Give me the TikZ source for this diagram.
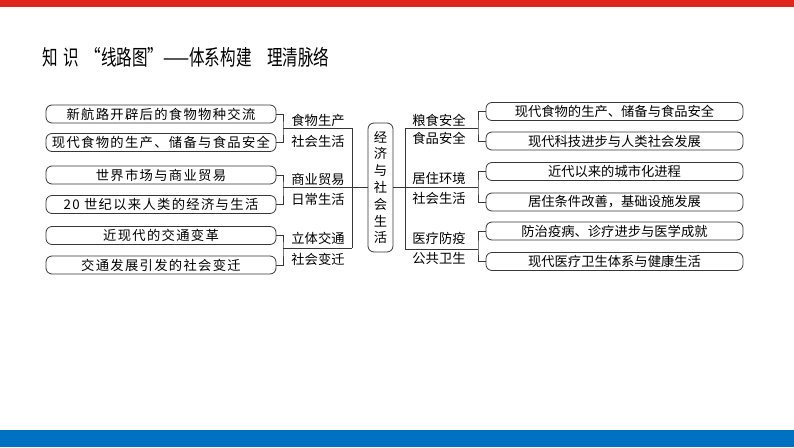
\documentclass[tikz,border=0pt]{standalone}
\usepackage{fontspec}
\newfontfamily\cjk{Noto Sans CJK SC}
\newfontfamily\cjkwide[LetterSpace=10]{Noto Sans CJK SC}
\newfontfamily\titlefont{Noto Sans CJK SC}
\usepackage{tikz}
\usetikzlibrary{positioning}
\definecolor{topred}{RGB}{224,39,31}
\definecolor{botblue}{RGB}{0,112,192}
\definecolor{linegray}{RGB}{55,55,55}

\begin{document}
\begin{tikzpicture}[x=1pt,y=-1pt,
  lbox/.style={draw=linegray, line width=0.8pt, rounded corners=6pt, minimum width=230pt, minimum height=18pt, inner sep=0pt, font=\cjkwide\fontsize{13.3}{15}\selectfont},
  rbox/.style={draw=linegray, line width=0.8pt, rounded corners=6pt, minimum width=257pt, minimum height=18pt, inner sep=0pt, font=\cjk\fontsize{13.3}{15}\selectfont},
  glabel/.style={inner sep=0pt, font=\cjk\fontsize{13.3}{15}\selectfont},
  link/.style={draw=linegray, line width=0.8pt}]
      \useasboundingbox (0,0) rectangle (794,447);
      \fill [topred] (0,0) rectangle (794,7);
      \fill [botblue] (0,430) rectangle (794,447);
      \node [anchor=west, inner sep=0pt] (title) at (42,57) {\titlefont\fontsize{21}{22}\selectfont\scalebox{0.74}[1.02]{知\hspace{0.4em}识\hspace{0.4em}“线路图”——体系构建\hspace{1em}理清脉络}};

      \node [draw=linegray, line width=0.8pt, rounded corners=6pt, minimum width=25pt, minimum height=129pt, inner sep=0pt, align=center, font=\cjk\fontsize{13.3}{16.8}\selectfont] (eco) at (380.5,187.5) {经\\济\\与\\社\\会\\生\\活};

      \node [lbox] (l1) at (161,114) {新航路开辟后的食物物种交流};
      \node [lbox] (l2) at (161,142.5) {现代食物的生产、储备与食品安全};
      \node [lbox] (l3) at (161,175) {世界市场与商业贸易};
      \node [lbox] (l4) at (161,204.5) {20 世纪以来人类的经济与生活};
      \node [lbox] (l5) at (161,235.5) {近现代的交通变革};
      \node [lbox] (l6) at (161,265) {交通发展引发的社会变迁};

      \coordinate (lj1) at (283,128);
      \coordinate (lj2) at (283,187.5);
      \coordinate (lj3) at (283,248);
      \coordinate (lt1) at (352,128);
      \coordinate (lt2) at (352,187.5);
      \coordinate (lt3) at (352,248);
      \draw [link] (l1.east) -| (lj1) |- (l2.east);
      \draw [link] (l3.east) -| (lj2) |- (l4.east);
      \draw [link] (l5.east) -| (lj3) |- (l6.east);
      \draw [link] (lj1) -- (lt1);
      \draw [link] (lj2) -- (lt2);
      \draw [link] (lj3) -- (lt3);
      \draw [link] (lt1) -- (lt3);
      \draw [link] (lt2) -- (eco.west);
      \node [glabel] (lg1a) at (318,120) {食物生产};
      \node [glabel] (lg1b) at (318,141) {社会生活};
      \node [glabel] (lg2a) at (318,179) {商业贸易};
      \node [glabel] (lg2b) at (318,199) {日常生活};
      \node [glabel] (lg3a) at (318,238) {立体交通};
      \node [glabel] (lg3b) at (318,259) {社会变迁};

      \node [rbox] (r1) at (614.5,111.5) {现代食物的生产、储备与食品安全};
      \node [rbox] (r2) at (614.5,141) {现代科技进步与人类社会发展};
      \node [rbox] (r3) at (614.5,171.5) {近代以来的城市化进程};
      \node [rbox] (r4) at (614.5,202) {居住条件改善，基础设施发展};
      \node [rbox] (r5) at (614.5,231) {防治疫病、诊疗进步与医学成就};
      \node [rbox] (r6) at (614.5,261.5) {现代医疗卫生体系与健康生活};

      \coordinate (rt1) at (405,128);
      \coordinate (rt2) at (405,187.5);
      \coordinate (rt3) at (405,249);
      \coordinate (rj1) at (478,128);
      \coordinate (rj2) at (478,187.5);
      \coordinate (rj3) at (478,249);
      \draw [link] (eco.east) -- (rt2);
      \draw [link] (rt1) -- (rt3);
      \draw [link] (rt1) -- (rj1);
      \draw [link] (rt2) -- (rj2);
      \draw [link] (rt3) -- (rj3);
      \draw [link] (r1.west) -| (rj1) |- (r2.west);
      \draw [link] (r3.west) -| (rj2) |- (r4.west);
      \draw [link] (r5.west) -| (rj3) |- (r6.west);
      \node [glabel] (rg1a) at (439,120) {粮食安全};
      \node [glabel] (rg1b) at (439,138) {食品安全};
      \node [glabel] (rg2a) at (439,178) {居住环境};
      \node [glabel] (rg2b) at (439,198) {社会生活};
      \node [glabel] (rg3a) at (439,238) {医疗防疫};
      \node [glabel] (rg3b) at (439,258) {公共卫生};
      \end{tikzpicture}
\end{document}
